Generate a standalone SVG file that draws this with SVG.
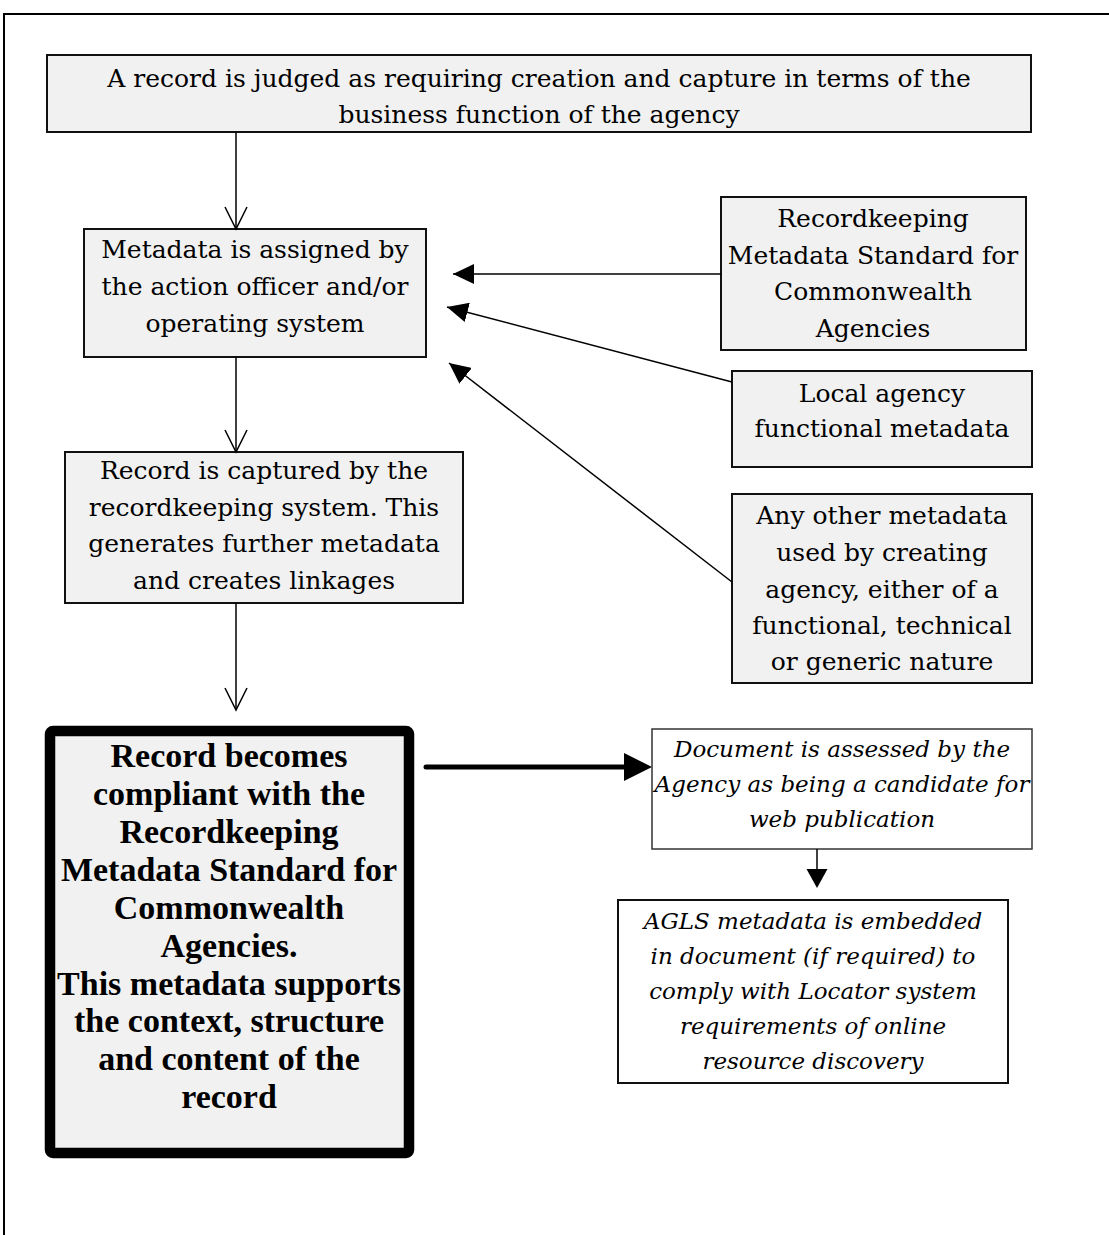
<svg xmlns="http://www.w3.org/2000/svg" width="1109" height="1235" viewBox="0 0 1109 1235">
<style>
.box{fill:#f1f1f1;stroke:#111;stroke-width:2}
.wbox{fill:#fff;stroke:#111;stroke-width:2}
.t{font-family:"DejaVu Serif",serif;font-size:25px;fill:#000;text-anchor:middle}
.ti{font-family:"DejaVu Serif",serif;font-style:italic;font-size:23px;fill:#000;text-anchor:middle}
.tb{font-family:"Liberation Serif","Times New Roman",serif;font-weight:bold;font-size:34px;fill:#000;text-anchor:middle}
.ln{stroke:#000;stroke-width:1.5;fill:none}
.v{stroke:#000;stroke-width:1.5;fill:none}
</style>
<defs>
<marker id="fh" markerUnits="userSpaceOnUse" viewBox="0 0 21 20" markerWidth="21" markerHeight="20" refX="21" refY="10" orient="auto">
<path d="M0,0 L21,10 L0,20 z" fill="#000"/>
</marker>
</defs>
<rect width="1109" height="1235" fill="#fff"/>
<path d="M4,1235 V14 H1109" fill="none" stroke="#000" stroke-width="2"/>

<g id="n1">
<rect class="box" x="47" y="55" width="984" height="77"/>
<text class="t" x="539" y="87">A record is judged as requiring creation and capture in terms of the</text>
<text class="t" x="539" y="123">business function of the agency</text>
</g>
<g id="n2">
<rect class="box" x="84" y="229" width="342" height="128"/>
<text class="t" x="255" y="258">Metadata is assigned by</text>
<text class="t" x="255" y="295">the action officer and/or</text>
<text class="t" x="255" y="332">operating system</text>
</g>
<g id="n3">
<rect class="box" x="65" y="452" width="398" height="151"/>
<text class="t" x="264" y="479">Record is captured by the</text>
<text class="t" x="264" y="516">recordkeeping system. This</text>
<text class="t" x="264" y="552">generates further metadata</text>
<text class="t" x="264" y="589">and creates linkages</text>
</g>
<g id="n4">
<rect x="50" y="731" width="359" height="422" rx="3" fill="#f1f1f1" stroke="#000" stroke-width="10.5"/>
<text class="tb" x="229" y="767">Record becomes</text>
<text class="tb" x="229" y="805">compliant with the</text>
<text class="tb" x="229" y="843">Recordkeeping</text>
<text class="tb" x="229" y="881">Metadata Standard for</text>
<text class="tb" x="229" y="919">Commonwealth</text>
<text class="tb" x="229" y="957">Agencies.</text>
<text class="tb" x="229" y="995">This metadata supports</text>
<text class="tb" x="229" y="1032">the context, structure</text>
<text class="tb" x="229" y="1070">and content of the</text>
<text class="tb" x="229" y="1108">record</text>
</g>
<g id="r1">
<rect class="box" x="721" y="197" width="305" height="153"/>
<text class="t" x="873" y="227">Recordkeeping</text>
<text class="t" x="873" y="264">Metadata Standard for</text>
<text class="t" x="873" y="300">Commonwealth</text>
<text class="t" x="873" y="337">Agencies</text>
</g>
<g id="r2">
<rect class="box" x="732" y="371" width="300" height="96"/>
<text class="t" x="882" y="402">Local agency</text>
<text class="t" x="882" y="437">functional metadata</text>
</g>
<g id="r3">
<rect class="box" x="732" y="494" width="300" height="189"/>
<text class="t" x="882" y="524">Any other metadata</text>
<text class="t" x="882" y="561">used by creating</text>
<text class="t" x="882" y="598">agency, either of a</text>
<text class="t" x="882" y="634">functional, technical</text>
<text class="t" x="882" y="670">or generic nature</text>
</g>
<g id="d1">
<rect x="652" y="729" width="380" height="120" fill="#fff" stroke="#333" stroke-width="1.5"/>
<text class="ti" x="842" y="757">Document is assessed by the</text>
<text class="ti" x="842" y="792">Agency as being a candidate for</text>
<text class="ti" x="842" y="827">web publication</text>
</g>
<g id="d2">
<rect class="wbox" x="618" y="900" width="390" height="183"/>
<text class="ti" x="813" y="929">AGLS metadata is embedded</text>
<text class="ti" x="813" y="964">in document (if required) to</text>
<text class="ti" x="813" y="999">comply with Locator system</text>
<text class="ti" x="813" y="1034">requirements of online</text>
<text class="ti" x="813" y="1069">resource discovery</text>
</g>

<g id="connectors">
<line class="ln" x1="236" y1="132" x2="236" y2="229"/>
<path class="v" d="M225,207 L236,229 L247,207"/>
<line class="ln" x1="236" y1="357" x2="236" y2="452"/>
<path class="v" d="M225,430 L236,452 L247,430"/>
<line class="ln" x1="236" y1="603" x2="236" y2="710"/>
<path class="v" d="M225,688 L236,710 L247,688"/>
<line class="ln" x1="721" y1="274" x2="453" y2="274" marker-end="url(#fh)"/>
<line class="ln" x1="732" y1="382" x2="447" y2="307" marker-end="url(#fh)"/>
<line class="ln" x1="732" y1="582" x2="449" y2="363" marker-end="url(#fh)"/>
<line x1="426" y1="767" x2="626" y2="767" stroke="#000" stroke-width="5" stroke-linecap="round"/>
<path d="M624,753 L652,767 L624,781 z" fill="#000"/>
<line x1="817" y1="849" x2="817" y2="872" stroke="#000" stroke-width="1.5"/>
<path d="M806.5,869 L817,888 L827.5,869 z" fill="#000"/>
</g>
</svg>
